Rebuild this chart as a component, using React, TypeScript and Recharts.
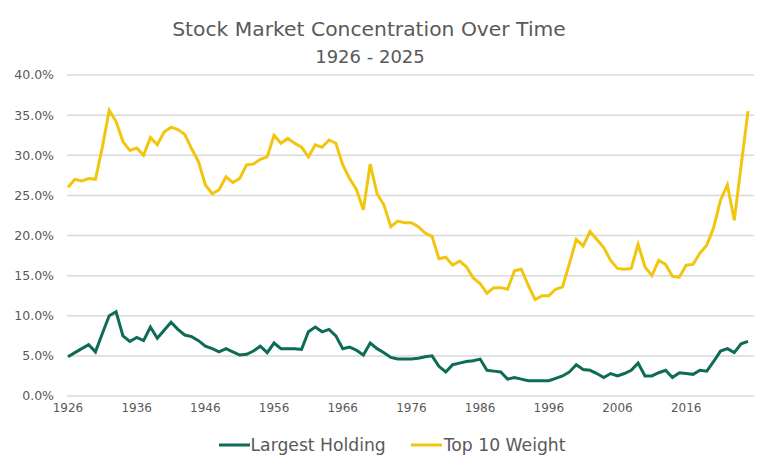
import React from 'react';
import { LineChart, Line, XAxis, YAxis, CartesianGrid, Legend } from 'recharts';

const years: number[] = Array.from({ length: 100 }, (_, i) => 1926 + i);

const largestHolding: number[] = [
  4.9, 5.4, 5.9, 6.4, 5.5, 7.8, 10.0, 10.5, 7.5, 6.8,
  7.3, 6.9, 8.6, 7.2, 8.2, 9.2, 8.3, 7.6, 7.4, 6.9,
  6.2, 5.9, 5.5, 5.9, 5.5, 5.1, 5.2, 5.6, 6.2, 5.4,
  6.6, 5.9, 5.9, 5.9, 5.8, 8.0, 8.6, 8.0, 8.3, 7.5,
  5.9, 6.1, 5.7, 5.1, 6.6, 5.9, 5.4, 4.8, 4.6, 4.6,
  4.6, 4.7, 4.9, 5.0, 3.7, 3.0, 3.9, 4.1, 4.3, 4.4,
  4.6, 3.2, 3.1, 3.0, 2.1, 2.3, 2.1, 1.9, 1.9, 1.9,
  1.9, 2.2, 2.5, 3.0, 3.9, 3.3, 3.2, 2.8, 2.3, 2.8,
  2.5, 2.8, 3.2, 4.1, 2.5, 2.5, 2.9, 3.2, 2.3, 2.9,
  2.8, 2.7, 3.2, 3.1, 4.3, 5.6, 5.9, 5.4, 6.5, 6.8,
];

const top10Weight: number[] = [
  26.0, 27.0, 26.8, 27.1, 27.0, 31.0, 35.6, 34.2, 31.7, 30.6,
  30.9, 30.0, 32.2, 31.3, 32.9, 33.5, 33.2, 32.6, 30.8, 29.2,
  26.3, 25.2, 25.7, 27.3, 26.6, 27.1, 28.8, 28.9, 29.5, 29.8,
  32.5, 31.5, 32.1, 31.5, 31.0, 29.8, 31.3, 31.0, 31.9, 31.5,
  28.8, 27.1, 25.7, 23.2, 28.9, 25.2, 23.8, 21.1, 21.8, 21.6,
  21.6, 21.1, 20.3, 19.9, 17.1, 17.3, 16.3, 16.8, 16.1, 14.7,
  14.0, 12.8, 13.5, 13.5, 13.3, 15.6, 15.8, 13.8, 12.0, 12.5,
  12.5, 13.3, 13.6, 16.5, 19.5, 18.7, 20.5, 19.5, 18.5, 16.9,
  15.9, 15.8, 15.9, 18.9, 16.1, 15.0, 16.9, 16.4, 14.9, 14.8,
  16.3, 16.4, 17.8, 18.8, 21.0, 24.4, 26.3, 21.9, 28.7, 35.5,
];

const yTicks: number[] = [0, 5, 10, 15, 20, 25, 30, 35, 40];

const seriesNames = { largest: 'Largest Holding', top10: 'Top 10 Weight' };
const GREEN = '#0e6b56';
const YELLOW = '#f2c50f';
const TEXT = '#595959';

const data = years.map((y, i) => ({
  year: String(y),
  largest: largestHolding[i],
  top10: top10Weight[i],
}));

const LegendContent = () => (
  <div style={{ display: 'flex', justifyContent: 'center', alignItems: 'center', fontFamily: 'DejaVu Sans, Verdana, sans-serif', fontSize: 17.2, color: TEXT, whiteSpace: 'nowrap' }}>
    <div style={{ display: 'flex', alignItems: 'center', marginRight: 25 }}>
      <svg width={31} height={4} style={{ marginRight: 1 }}><line x1={0} y1={2} x2={31} y2={2} stroke={GREEN} strokeWidth={3} /></svg>
      <span>{seriesNames.largest}</span>
    </div>
    <div style={{ display: 'flex', alignItems: 'center' }}>
      <svg width={31} height={4} style={{ marginRight: 2 }}><line x1={0} y1={2} x2={31} y2={2} stroke={YELLOW} strokeWidth={3} /></svg>
      <span>{seriesNames.top10}</span>
    </div>
  </div>
);

export default function App() {
  return (
    <div style={{ position: 'absolute', left: 0, top: 0, width: 780, height: 468, background: '#fff' }}>
      <div style={{ position: 'absolute', left: 0, top: 16, width: 738, textAlign: 'center', fontFamily: 'DejaVu Sans, Verdana, sans-serif', fontSize: 20.3, color: TEXT, lineHeight: '26px', whiteSpace: 'nowrap' }}>
        Stock Market Concentration Over Time
      </div>
      <div style={{ position: 'absolute', left: 0, top: 46, width: 740, textAlign: 'center', fontFamily: 'DejaVu Sans, Verdana, sans-serif', fontSize: 18, color: TEXT, lineHeight: '22px', whiteSpace: 'nowrap' }}>
        1926 - 2025
      </div>
      <LineChart width={780} height={468} data={data} margin={{ top: 75, right: 26, bottom: 42, left: 0 }}>
        <CartesianGrid vertical={false} stroke="#d9d9d9" strokeWidth={1.5} />
        <XAxis
          dataKey="year"
          interval={9}
          axisLine={false}
          tickLine={false}
          tickSize={0}
          tickMargin={7}
          padding={{ left: 1, right: 6 }}
          tick={{ fill: TEXT, fontSize: 12, fontFamily: 'DejaVu Sans, Verdana, sans-serif' }}
        />
        <YAxis
          width={67}
          domain={[0, 40]}
          ticks={yTicks}
          interval={0}
          axisLine={false}
          tickLine={false}
          tickSize={0}
          tickMargin={13}
          tickFormatter={(v: number) => `${v.toFixed(1)}%`}
          tick={{ fill: TEXT, fontSize: 12.5, fontFamily: 'DejaVu Sans, Verdana, sans-serif' }}
        />
        <Legend verticalAlign="middle" align="center" layout="horizontal" content={<LegendContent />} wrapperStyle={{ position: 'absolute', top: 435, left: 2, width: 780, bottom: 'auto' }} />
        <Line type="linear" dataKey="largest" name={seriesNames.largest} stroke={GREEN} strokeWidth={3} dot={false} isAnimationActive={false} />
        <Line type="linear" dataKey="top10" name={seriesNames.top10} stroke={YELLOW} strokeWidth={3} dot={false} isAnimationActive={false} />
      </LineChart>
    </div>
  );
}
